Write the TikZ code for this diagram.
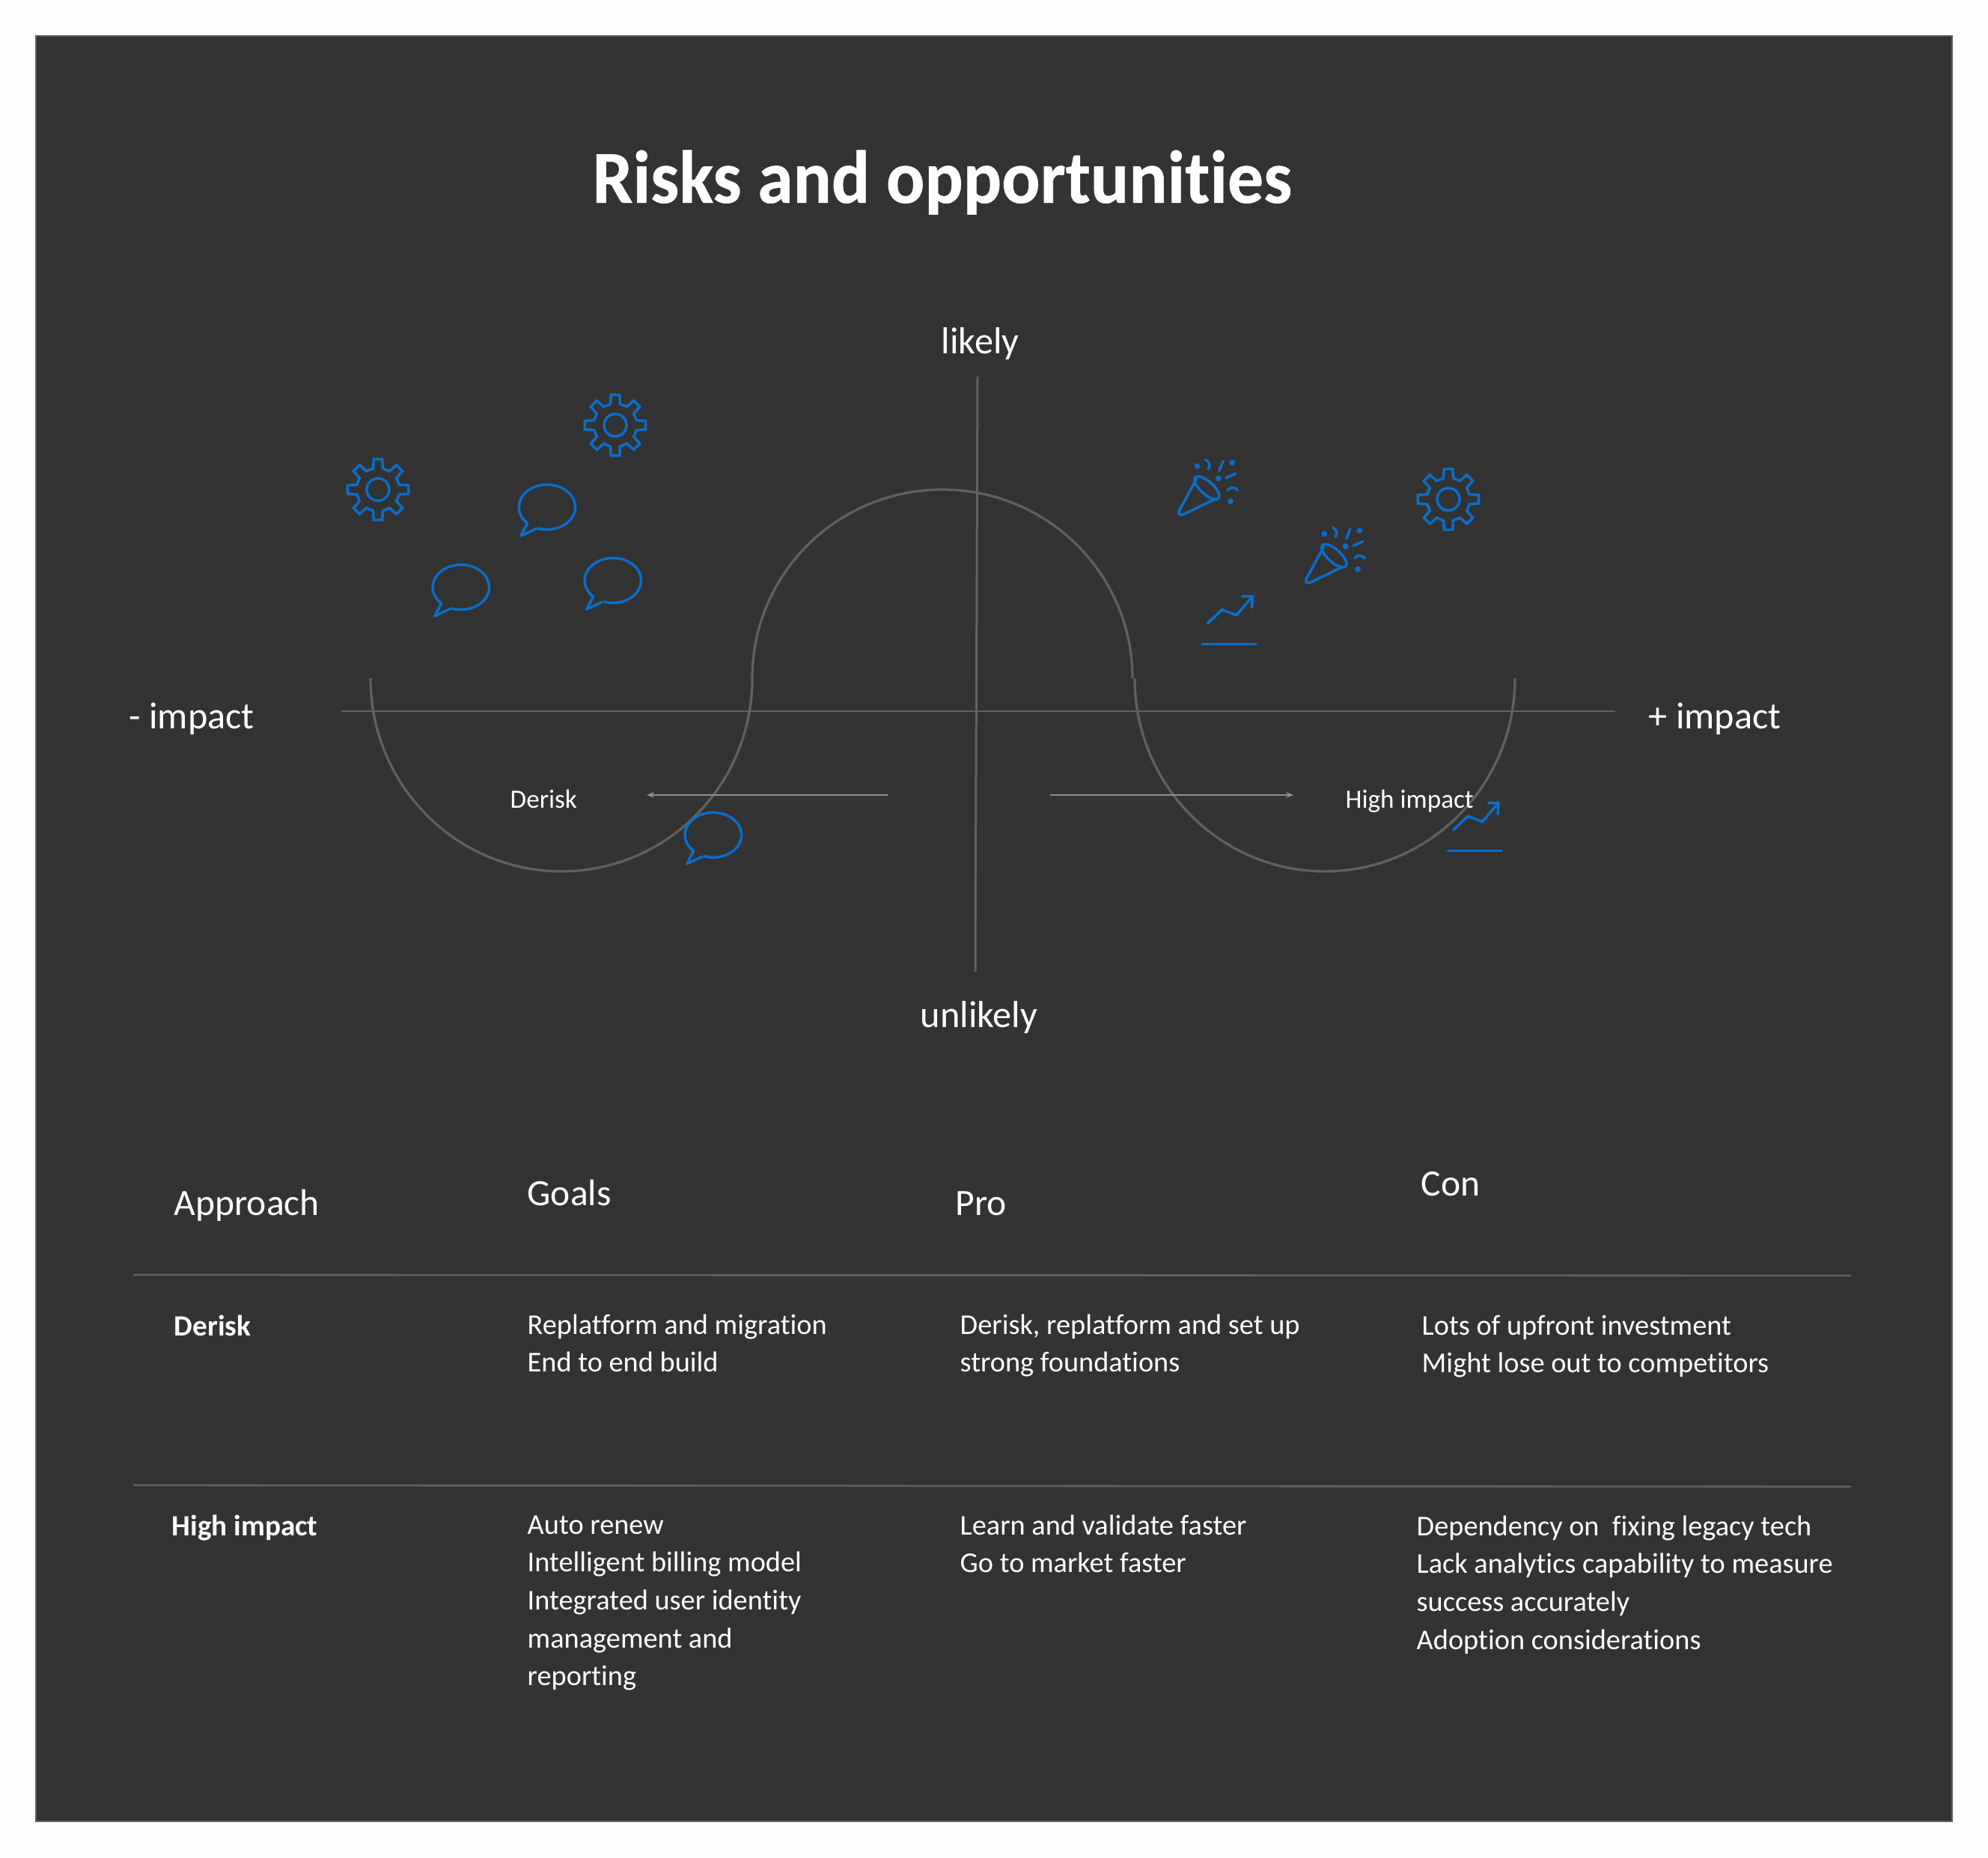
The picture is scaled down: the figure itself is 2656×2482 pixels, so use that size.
\documentclass[tikz,border=0pt]{standalone}
\usepackage{fontspec}
\setmainfont[Ligatures=NoCommon]{Carlito}
\newfontfamily\titlefont[Ligatures=NoCommon,FakeStretch=0.955,FakeBold=0.5]{Carlito}
\usetikzlibrary{arrows.meta}
\definecolor{panelbg}{HTML}{333333}
\definecolor{paperbg}{HTML}{FBFEFD}
\definecolor{iconblue}{HTML}{0C6DC9}
\tikzset{
    every node/.style={text=white,inner sep=0pt,anchor=base west},
    axisline/.style={draw=white!23!panelbg,line width=0.85pt},
    curveline/.style={draw=white!22!panelbg,line width=0.95pt},
    ruleline/.style={draw=white!22!panelbg,line width=0.8pt},
    hintline/.style={draw=white!45!panelbg,line width=0.45pt,-{Stealth[length=2.8pt,width=2.2pt]}},
    icon/.style={draw=iconblue,line width=1pt,line join=miter},
    titletext/.style={font=\titlefont\bfseries\fontsize{28.5}{32}\selectfont},
    axistext/.style={font=\fontsize{14.3}{16}\selectfont},
    headtext/.style={font=\fontsize{14.1}{16}\selectfont},
    rowtext/.style={font=\bfseries\fontsize{11.15}{12}\selectfont},
    celltext/.style={font=\fontsize{10.9}{14.4}\selectfont,align=left,anchor=north west},
    hinttext/.style={font=\fontsize{10}{12}\selectfont},
    gear/.pic={
        \draw[icon] (-13:29)
            \foreach \a in {0,45,...,315} {-- (\a-13:29) -- (\a-8:41) -- (\a+8:41) -- (\a+13:29)} -- cycle;
        \draw[icon] (0,0) circle [radius=15];
    },
    bubble/.pic={
        \draw[icon,line join=round] (-13,28) -- (-34.3,38) -- (-25.3,21)
            arc [start angle=134,end angle=470,x radius=37.7,y radius=30];
    },
    popper/.pic={
        \draw[icon,line join=round,line cap=round,rounded corners=4] (-8.3,-16.7) -- (-37,36) -- (16.7,10);
        \draw[icon,shift={(5.7,-5)},rotate=-42] (0,0) ellipse [x radius=21,y radius=8.5];
        \foreach \p in {(-7.3,-34),(39.7,-38.7),(21,-17.7),(37.3,13)}
            \draw[icon] \p circle [radius=2];
        \draw[icon,line cap=round] (4,-42.7) .. controls (12,-38) and (9,-32) .. (7.3,-30);
        \draw[icon,line cap=round] (22,-27.7) -- (27.3,-40.7);
        \draw[icon,line cap=round] (31.3,-18.3) -- (44,-24);
        \draw[icon,line cap=round] (33.3,-1.7) .. controls (37,-7) and (43,-6) .. (46.7,-1.7);
    },
    trend/.pic={
        \draw[icon,line cap=round] (-28.7,-28) -- (-9.3,-46.3) -- (10,-39) -- (31.3,-64);
        \draw[icon,line cap=round] (18,-64) -- (31.3,-64) -- (30.7,-49);
        \draw[icon,line cap=round] (-36,0) -- (36,0);
    },
}
\begin{document}
\begin{tikzpicture}[x=0.01cm,y=-0.01cm]
    \useasboundingbox (0,0) rectangle (2656,2482);
    \fill[paperbg] (0,0) rectangle (2656,2482);
    \path[fill=panelbg,draw=white!22!panelbg,line width=0.6pt] (48,48) rectangle (2608,2433);

    \node[titletext] (title) at (791,271) {Risks and opportunities};

    % axes
    \coordinate (top)    at (1306,503);
    \coordinate (bottom) at (1303,1298);
    \coordinate (left)   at (456,950);
    \coordinate (right)  at (2158,950);
    \path[axisline] (top) -- (bottom);
    \path[axisline] (left) -- (right);
    \node[axistext] (likely)   at (1257,473)  {likely};
    \node[axistext] (unlikely) at (1229,1372) {unlikely};
    \node[axistext] (minus)    at (172,973)   {- impact};
    \node[axistext] (plus)     at (2202,973)  {+ impact};

    % wave
    \path[curveline] (495,906) arc [start angle=180,end angle=0,x radius=255,y radius=258];
    \path[curveline] (1005,906) arc [start angle=180,end angle=360,x radius=254,y radius=252];
    \path[curveline] (1516,906) arc [start angle=180,end angle=0,x radius=254,y radius=258];

    % hints
    \node[hinttext] (derisk) at (681,1079)  {Derisk};
    \node[hinttext] (high)   at (1797,1079) {High impact};
    \coordinate (leftfrom)  at (1186,1062);
    \coordinate (leftto)    at (864,1062);
    \coordinate (rightfrom) at (1403,1062);
    \coordinate (rightto)   at (1728,1062);
    \path[hintline] (leftfrom) -- (leftto);
    \path[hintline] (rightfrom) -- (rightto);

    % icons
    \pic at (505,654)  {gear};
    \pic at (822,568)  {gear};
    \pic at (1935,667) {gear};
    \pic at (730,678)  {bubble};
    \pic at (615,785)  {bubble};
    \pic at (818,776)  {bubble};
    \pic at (952,1116) {bubble};
    \pic at (1606.7,656.7) {popper};
    \pic at (1776.7,747.4) {popper};
    \pic at (1642,860.7)  {trend};
    \pic at (1970.5,1136.7) {trend};

    % table
    \node[headtext] (approach) at (232,1623) {Approach};
    \node[headtext] (goals)    at (704,1610) {Goals};
    \node[headtext] (pro)      at (1276,1623) {Pro};
    \node[headtext] (con)      at (1898,1597) {Con};
    \coordinate (ruleAl) at (178,1703);
    \coordinate (ruleAr) at (2473,1704);
    \coordinate (ruleBl) at (178,1984);
    \coordinate (ruleBr) at (2473,1986);
    \path[ruleline] (ruleAl) -- (ruleAr);
    \path[ruleline] (ruleBl) -- (ruleBr);

    \node[rowtext] (rowA) at (232,1784) {Derisk};
    \node[rowtext] (rowB) at (229,2051) {High impact};

    \node[celltext] (goalA) at (704,1755) {Replatform and migration\\End to end build};
    \node[celltext] (proA)  at (1282,1755) {Derisk, replatform and set up\\strong foundations};
    \node[celltext] (conA)  at (1899,1756) {Lots of upfront investment\\Might lose out to competitors};
    \node[celltext] (goalB) at (704,2024) {Auto renew\\Intelligent billing model\\Integrated user identity\\management and\\reporting};
    \node[celltext] (proB)  at (1282,2023) {Learn and validate faster\\Go to market faster};
    \node[celltext] (conB)  at (1892,2024) {Dependency on\ \ fixing legacy tech\\Lack analytics capability to measure\\success accurately\\Adoption considerations};
\end{tikzpicture}
\end{document}
